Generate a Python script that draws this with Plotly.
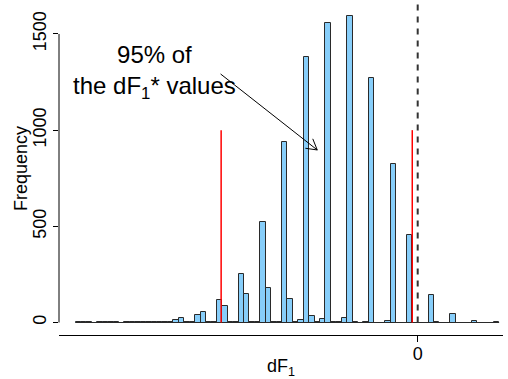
import math
import plotly.graph_objects as go

# ---------------- data ----------------
bin_width = 0.001
first_edge = -0.063
counts = [
    2, 1, 1, 0, 1, 1, 1, 1, 0, 2, 2, 1, 4, 5, 3, 4, 2, 1,
    13, 23, 2, 1,
    41, 56, 2, 1,
    115, 88, 3, 2,
    250, 148, 2, 5,
    521, 178, 2, 5,
    940, 121, 1, 11,
    1379, 35, 2, 16,
    1557, 3, 1, 22,
    1595, 1, 0, 3,
    1270, 0, 0, 8,
    826, 0, 0, 457,
    0, 0, 0, 141,
    1, 0, 0, 42,
    0, 0, 0, 9,
    0, 0, 0, 2,
]
q_lo, q_hi = -0.0362, -0.0010      # 2.5% / 97.5% quantiles (red lines)
q_line_top = 1000
ref_value = 0.0                     # dashed reference line
y_ticks = [0, 500, 1000, 1500]
x_ticks = [0]
x_tick_labels = ["0"]
x_title = "dF<sub>1</sub>"
y_title = "Frequency"
annot_text = "95% of<br>the dF<sub>1</sub>* values"
annot_pos = (-0.0484, 1300)
arrow_tail = (-0.0363, 1292)
arrow_tip = (-0.0185, 897)

# ---------------- layout geometry ----------------
W, H = 508, 379
ml, mr, mt, mb = 59, 5, 3, 44
x_range = [-0.06606, 0.01571]
y_range = [-65, 1661]
plot_w = W - ml - mr
plot_h = H - mt - mb
px_per_x = plot_w / (x_range[1] - x_range[0])
px_per_y = plot_h / (y_range[1] - y_range[0])

centers = [first_edge + bin_width * (i + 0.5) for i in range(len(counts))]
last_edge = first_edge + bin_width * len(counts)

fig = go.Figure()
fig.add_trace(go.Bar(
    x=centers, y=counts, width=[bin_width] * len(counts),
    marker=dict(color="#87CEFA", line=dict(color="#2a2a2a", width=1)),
    showlegend=False, hoverinfo="x+y",
))

shapes = []
# baseline of histogram
shapes.append(dict(type="line", xref="x", yref="y", x0=first_edge, x1=last_edge, y0=0, y1=0,
                   line=dict(color="#2a2a2a", width=1)))
# y axis line from first to last tick
shapes.append(dict(type="line", xref="paper", yref="y", x0=0, x1=0, y0=y_ticks[0], y1=y_ticks[-1],
                   line=dict(color="black", width=1)))
# dashed reference line
shapes.append(dict(type="line", xref="x", yref="y", x0=ref_value, x1=ref_value, y0=0, y1=y_range[1],
                   line=dict(color="#333333", width=2, dash="6px,6px")))
# red quantile lines
for q in (q_lo, q_hi):
    shapes.append(dict(type="line", xref="x", yref="y", x0=q, x1=q, y0=0, y1=q_line_top,
                       line=dict(color="red", width=1.5)))
# arrow shaft
shapes.append(dict(type="line", xref="x", yref="y", x0=arrow_tail[0], y0=arrow_tail[1],
                   x1=arrow_tip[0], y1=arrow_tip[1], line=dict(color="black", width=1)))
# open arrow head (R style)
dxp = (arrow_tip[0] - arrow_tail[0]) * px_per_x
dyp = -(arrow_tip[1] - arrow_tail[1]) * px_per_y
ang = math.atan2(dyp, dxp)
head_len = 12
for s in (1, -1):
    a = ang + math.pi + s * math.pi / 6
    bx = arrow_tip[0] + head_len * math.cos(a) / px_per_x
    by = arrow_tip[1] - head_len * math.sin(a) / px_per_y
    shapes.append(dict(type="line", xref="x", yref="y", x0=arrow_tip[0], y0=arrow_tip[1],
                       x1=bx, y1=by, line=dict(color="black", width=1)))

fig.update_layout(
    width=W, height=H,
    margin=dict(l=ml, r=mr, t=mt, b=mb, autoexpand=False),
    plot_bgcolor="white", paper_bgcolor="white",
    font=dict(family="Liberation Sans, Arial, sans-serif", size=18, color="black"),
    bargap=0,
    shapes=shapes,
    annotations=[
        dict(x=annot_pos[0], y=annot_pos[1], xref="x", yref="y", text=annot_text,
             showarrow=False, xanchor="center", yanchor="middle", align="center",
             font=dict(size=24, color="black")),
        dict(x=0, y=0.5, xref="paper", yref="paper", text=y_title, textangle=-90,
             showarrow=False, xanchor="center", yanchor="middle", xshift=-38,
             font=dict(size=18, color="black")),
    ],
    xaxis=dict(
        range=x_range, showgrid=False, zeroline=False,
        showline=True, linecolor="black", linewidth=1,
        ticks="outside", ticklen=6, tickwidth=1, tickcolor="black",
        tickvals=x_ticks, ticktext=x_tick_labels, ticklabelstandoff=-4,
        title=dict(text=x_title, standoff=8, font=dict(size=18)),
        automargin=False, fixedrange=True,
    ),
    yaxis=dict(
        range=y_range, showgrid=False, zeroline=False, showline=False,
        ticks="outside", ticklen=5, tickwidth=1, tickcolor="black",
        tickvals=y_ticks, tickangle=-90,
        automargin=False, fixedrange=True,
    ),
)

fig.write_html(
    "out.html",
    config={"displayModeBar": False},
    post_script="document.body.style.margin='0';document.body.style.overflow='hidden';",
)
